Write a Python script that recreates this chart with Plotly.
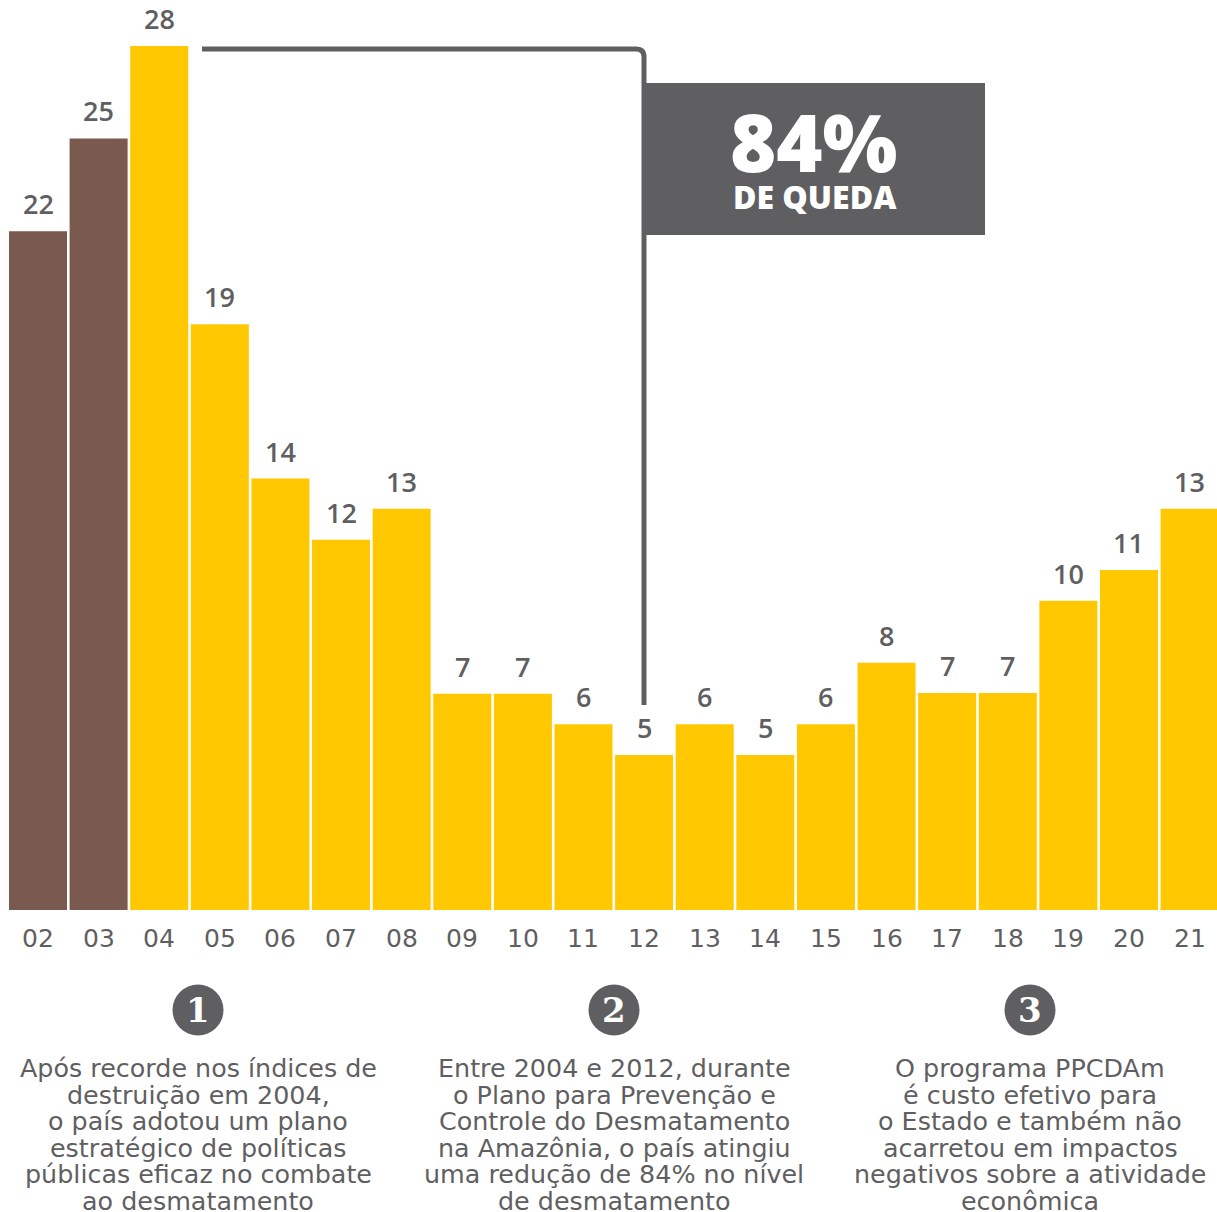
import plotly.graph_objects as go

years = ["02","03","04","05","06","07","08","09","10","11","12","13","14","15","16","17","18","19","20","21"]
values = [22,25,28,19,14,12,13,7,7,6,5,6,5,6,8,7,7,10,11,13]
heights = [22,25,28,18.98,13.98,12,13,7.01,7.01,6.02,5.02,6.02,5.02,6.02,8.01,7.03,7.03,10.02,11.02,13]
brown = "#7A5A4E"; yellow = "#FFC800"; grey = "#5F5F61"
colors = [brown, brown] + [yellow]*18
notes = [
 ("1", ["Após recorde nos índices de","destruição em 2004,","o país adotou um plano","estratégico de políticas","públicas eficaz no combate","ao desmatamento"], 198),
 ("2", ["Entre 2004 e 2012, durante","o Plano para Prevenção e","Controle do Desmatamento","na Amazônia, o país atingiu","uma redução de 84% no nível","de desmatamento"], 614),
 ("3", ["O programa PPCDAm","é custo efetivo para","o Estado e também não","acarretou em impactos","negativos sobre a atividade","econômica"], 1030),
]
W, H = 1217, 1212
FONT = "'Open Sans', sans-serif"
BODY = "'DejaVu Sans', sans-serif"

fig = go.Figure(go.Bar(x=list(range(20)), y=heights, marker=dict(color=colors, line_width=0), width=0.957, hoverinfo="skip"))

pxx = (1189.6-38)/19
x0 = -38/pxx
x1 = x0 + W/pxx
py = (910-46)/28
y0 = -(H-910)/py
y1 = 910/py

def X(p): return x0 + p/pxx
def Y(p): return (910-p)/py

fig.update_xaxes(range=[x0,x1], visible=False)
fig.update_yaxes(range=[y0,y1], visible=False)

shapes = []
path = f"M {X(202)} {Y(49)} L {X(636)} {Y(49)} Q {X(644)} {Y(49)} {X(644)} {Y(57)} L {X(644)} {Y(705)}"
shapes.append(dict(type="path", path=path, line=dict(color=grey, width=5)))
shapes.append(dict(type="rect", x0=X(644), x1=X(985), y0=Y(83), y1=Y(235), fillcolor=grey, line_width=0))
ann = []
for i,y in enumerate(years):
    ann.append(dict(x=i, y=Y(938), text=y, showarrow=False, font=dict(family=BODY, size=25, color=grey)))
    ann.append(dict(x=i, y=heights[i], yshift=27.6, text=str(values[i]), showarrow=False, font=dict(family=FONT, size=27, color=grey, weight=600)))
ann.append(dict(x=X(814), y=Y(141), text="84%", showarrow=False, font=dict(family=FONT, size=79, color="white", weight=800)))
ann.append(dict(x=X(815), y=Y(196.5), text="DE QUEDA", showarrow=False, font=dict(family=FONT, size=32, color="white", weight=800)))
for n, lines, cx in notes:
    r = 25.5
    shapes.append(dict(type="circle", x0=X(cx-r), x1=X(cx+r), y0=Y(1010-r), y1=Y(1010+r), fillcolor=grey, line_width=0))
    ann.append(dict(x=X(cx), y=Y(1010), text=n, showarrow=False, font=dict(family="'DejaVu Serif'", size=34, color="white", weight=700)))
    for k, t in enumerate(lines):
        ann.append(dict(x=X(cx), y=Y(1068+26.6*k), text=t, showarrow=False, font=dict(family=BODY, size=25.4, color=grey)))

fig.update_layout(width=W, height=H, margin=dict(l=0,r=0,t=0,b=0), paper_bgcolor="white", plot_bgcolor="white",
    showlegend=False, shapes=shapes, annotations=ann)
fig.write_html("out.html", config={"displayModeBar": False},
    post_script="document.body.style.margin='0';document.documentElement.style.overflow='hidden';")
